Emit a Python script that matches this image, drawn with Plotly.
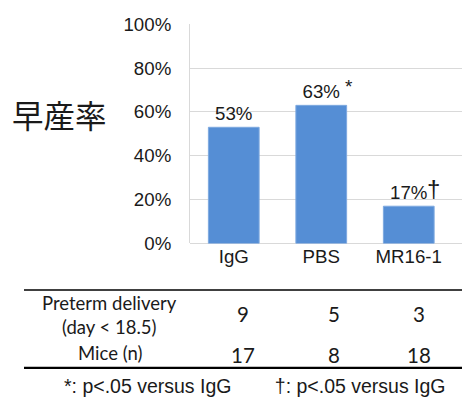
import plotly.graph_objects as go

# Groups and preterm-delivery rates
groups = ["IgG", "PBS", "MR16-1"]
rates = [0.53, 0.63, 0.17]
marks = ["", "*", "†"]

# Table rows under the chart
preterm_counts = ["9", "5", "3"]
mice_counts = ["17", "8", "18"]

y_ticks = [0, 0.2, 0.4, 0.6, 0.8, 1.0]

W, H = 462, 413
BAR = "#558ED5"
GRID = "#D9D9D9"
TXT = "#1a1a1a"
SANS = "Liberation Sans, Arial, sans-serif"
TABLE_FONT = "Lato, Open Sans, sans-serif"
FS = 18.7

x_idx = list(range(len(groups)))

fig = go.Figure()
fig.add_trace(go.Bar(
    x=x_idx,
    y=rates,
    width=0.58,
    marker=dict(color=BAR, line=dict(color="#7EA9E0", width=1)),
    text=[f"{round(v * 100)}%" for v in rates],
    textposition="outside",
    textfont=dict(family=SANS, size=FS, color=TXT),
    cliponaxis=False,
    hoverinfo="skip",
))

# significance marks next to the bar labels
mark_style = {
    "*": dict(dx=28, dy=19, size=19),
    "†": dict(dx=25, dy=18, size=24),
}
for i, (v, m) in enumerate(zip(rates, marks)):
    if not m:
        continue
    st = mark_style[m]
    fig.add_annotation(
        x=i, y=v, xref="x", yref="y",
        text=m, showarrow=False,
        xanchor="center", yanchor="middle",
        xshift=st["dx"], yshift=st["dy"],
        font=dict(family=SANS, size=st["size"], color=TXT),
    )

# plot area in pixels
left_px, top_px, bottom_px = 190, 15, 246
y0 = (H - bottom_px) / H
y1 = (H - top_px) / H
step_px = 87.5
x_lo = -0.5
x_hi = x_lo + (W - left_px) / step_px

fig.update_layout(
    width=W, height=H,
    margin=dict(l=0, r=0, t=0, b=0),
    paper_bgcolor="white", plot_bgcolor="white",
    showlegend=False,
    xaxis=dict(
        domain=[left_px / W, 1], range=[x_lo, x_hi],
        tickmode="array", tickvals=x_idx, ticktext=groups,
        showgrid=False, zeroline=False, showline=False, ticks="",
        tickfont=dict(family=SANS, size=FS, color=TXT),
        ticklabelstandoff=0,
        fixedrange=True,
    ),
    yaxis=dict(
        domain=[y0, y1], range=[0, 1],
        tickmode="array", tickvals=y_ticks, tickformat=".0%",
        showgrid=True, gridcolor=GRID, gridwidth=1,
        zeroline=True, zerolinecolor=GRID, zerolinewidth=1,
        showline=True, linecolor=GRID, linewidth=1, ticks="",
        tickfont=dict(family=SANS, size=FS, color=TXT),
        ticklabelstandoff=14,
        fixedrange=True,
    ),
)


def paper_text(xpx, ypx, text, size, family):
    fig.add_annotation(
        x=xpx / W, y=(H - ypx) / H, xref="paper", yref="paper",
        xanchor="center", yanchor="middle",
        text=text, showarrow=False,
        font=dict(family=family, size=size, color=TXT),
    )


# y-axis title
paper_text(60, 110, "早産率", 31.5, "Noto Sans CJK JP")

# table rules
def hline(ypx, w):
    fig.add_shape(type="line", xref="paper", yref="paper",
                  x0=24 / W, x1=1, y0=(H - ypx) / H, y1=(H - ypx) / H,
                  line=dict(color="#000000", width=w))

hline(295, 1.5)
hline(377, 2.2)

col_x = [243, 334, 419]

paper_text(109, 309, "Preterm delivery", 18.5, TABLE_FONT)
paper_text(109, 334, "(day < 18.5)", 18.5, TABLE_FONT)
paper_text(110, 361, "Mice (n)", 18.5, TABLE_FONT)
for xp, a, b in zip(col_x, preterm_counts, mice_counts):
    paper_text(xp, 320, a, 20.5, TABLE_FONT)
    paper_text(xp, 364, b, 20.5, TABLE_FONT)

# footnote
paper_text(255, 396, "*: p<.05 versus IgG        †: p<.05 versus IgG", 19.5, SANS)

fig.write_html("out.html", config={"displayModeBar": False})
